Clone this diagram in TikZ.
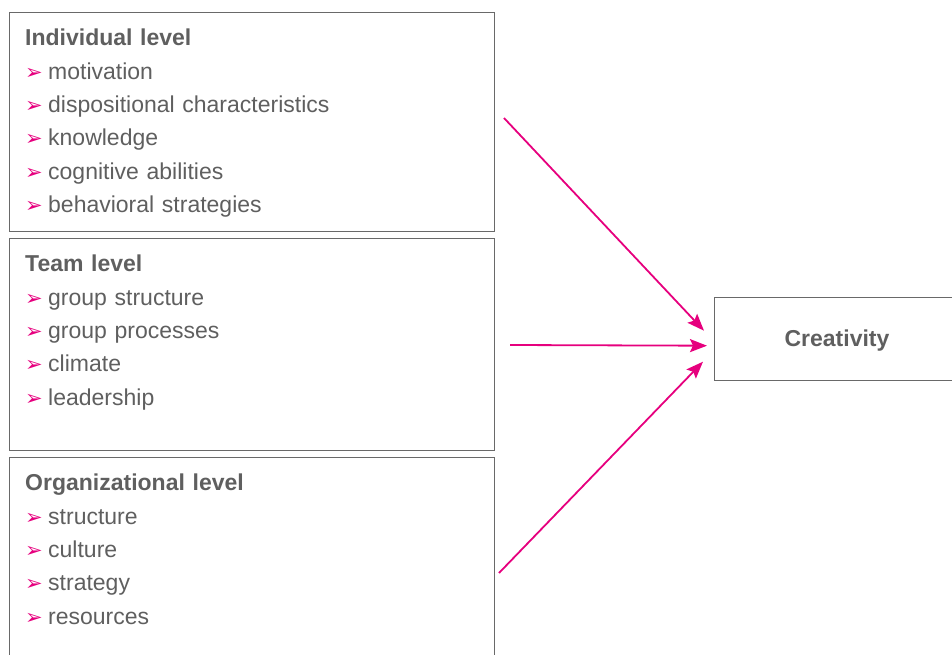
\documentclass[tikz,border=0pt]{standalone}
\usepackage{fontspec}
\setmainfont{Liberation Sans}
\newfontfamily\dingfont{DejaVu Sans}
\usetikzlibrary{arrows.meta,positioning}
\definecolor{boxgray}{RGB}{105,105,105}
\definecolor{txtgray}{RGB}{95,95,95}
\definecolor{hotpink}{RGB}{230,0,126}
\newcommand{\itm}{\\\makebox[23pt][l]{\color{hotpink}\dingfont\fontsize{21}{21}\selectfont ➢}}
\tikzset{
  levelbox/.style={draw=boxgray,line width=1.4pt,minimum width=485pt,anchor=north west,inner sep=0pt},
  leveltext/.style={anchor=north west,inner sep=0pt,text width=460pt,align=left,text=txtgray,
    font=\fontsize{23}{33.3}\selectfont},
  flow/.style={hotpink,line width=1.8pt,-{Stealth[length=17pt,width=13pt,inset=3pt]}}
}
\begin{document}
\begin{tikzpicture}[x=1pt,y=-1pt]
  \useasboundingbox (0,0) rectangle (952,655);
  \clip (0,0) rectangle (952,655);
  % level boxes
  \node[levelbox,minimum height=219pt] (ind) at (9,12) {};
  \node[levelbox,minimum height=212pt] (team) at (9,238) {};
  \node[levelbox,minimum height=230pt] (org) at (9,457) {};
  \node[leveltext] (indtxt) at ([shift={(16,17)}]ind.north west)
    {\textbf{Individual level}\itm motivation\itm dispositional characteristics\itm knowledge\itm cognitive abilities\itm behavioral strategies};
  \node[leveltext] (teamtxt) at ([shift={(16,17)}]team.north west)
    {\textbf{Team level}\itm group structure\itm group processes\itm climate\itm leadership};
  \node[leveltext] (orgtxt) at ([shift={(16,17)}]org.north west)
    {\textbf{Organizational level}\itm structure\itm culture\itm strategy\itm resources};
  % outcome
  \node[draw=boxgray,line width=1.4pt,anchor=north west,minimum width=260pt,minimum height=83pt,
    inner sep=0pt] (cre) at (714,297) {};
  \node[text=txtgray,font=\fontsize{23}{28}\selectfont\bfseries] (cretxt) at (837,341) {Creativity};
  % arrows
  \coordinate (s1) at (504,118);
  \coordinate (s2) at (510,345);
  \coordinate (s3) at (499,573);
  \draw[flow] (s1) -- ([shift={(-10,-8.5)}]cre.west);
  \draw[flow] (s2) -- ([shift={(-7,6.5)}]cre.west);
  \draw[flow] (s3) -- ([shift={(-11,22.5)}]cre.west);
\end{tikzpicture}
\end{document}
